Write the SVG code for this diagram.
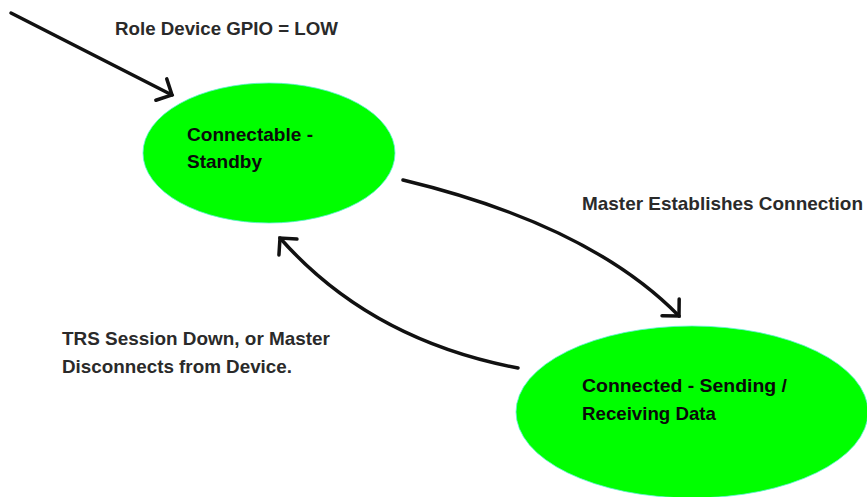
<svg xmlns="http://www.w3.org/2000/svg" width="867" height="497" viewBox="0 0 867 497">
  <style>
    .state { fill: #00ff00; stroke: #60f0d8; stroke-width: 0.8; }
    .name { font-family: "Liberation Sans", Arial, sans-serif; font-weight: bold; font-size: 19px; fill: #0a0a0a; }
    .label { font-family: "Liberation Sans", Arial, sans-serif; font-weight: bold; font-size: 19px; fill: #2a2a2a; }
    .edge { fill: none; stroke: #111; stroke-width: 3.5; stroke-linecap: round; marker-end: url(#chevron); }
  </style>
  <defs>
    <marker id="chevron" markerUnits="userSpaceOnUse" markerWidth="30" markerHeight="30" viewBox="-20 -15 30 30" refX="0" refY="0" orient="auto" overflow="visible">
      <path d="M-12,-12 L0,0 L-12,12" fill="none" stroke="#111" stroke-width="3.5" stroke-linecap="round" stroke-linejoin="miter"/>
    </marker>
  </defs>
  <rect width="867" height="497" fill="#ffffff"/>

  <g id="standby">
    <ellipse class="state" cx="269" cy="153" rx="126" ry="70"/>
    <text class="name" x="187" y="141" textLength="126" lengthAdjust="spacingAndGlyphs">Connectable -</text>
    <text class="name" x="187" y="168" textLength="75" lengthAdjust="spacingAndGlyphs">Standby</text>
  </g>

  <g id="connected">
    <ellipse class="state" cx="692" cy="412" rx="176" ry="86"/>
    <text class="name" x="582" y="392" textLength="205" lengthAdjust="spacingAndGlyphs">Connected - Sending /</text>
    <text class="name" x="582" y="420" textLength="134" lengthAdjust="spacingAndGlyphs">Receiving Data</text>
  </g>

  <g id="connectors">
    <path class="edge" d="M11,13 L172,95"/>
    <path class="edge" d="M403,180 Q590,225 679,316"/>
    <path class="edge" d="M518,368 Q370,340 280,238"/>
  </g>

  <g id="labels">
    <text class="label" x="115" y="35" textLength="223" lengthAdjust="spacingAndGlyphs">Role Device GPIO = LOW</text>
    <text class="label" x="582" y="210" textLength="281" lengthAdjust="spacingAndGlyphs">Master Establishes Connection</text>
    <text class="label" x="62" y="345" textLength="268" lengthAdjust="spacingAndGlyphs">TRS Session Down, or Master</text>
    <text class="label" x="62" y="373" textLength="230" lengthAdjust="spacingAndGlyphs">Disconnects from Device.</text>
  </g>
</svg>
